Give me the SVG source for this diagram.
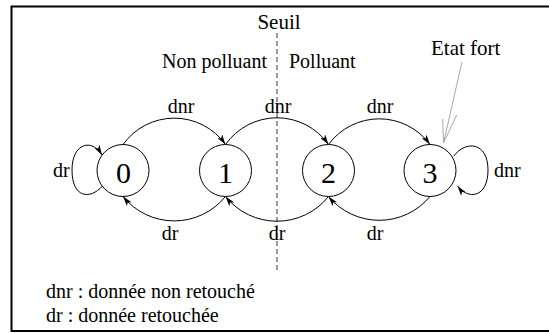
<svg xmlns="http://www.w3.org/2000/svg" width="549" height="333" viewBox="0 0 549 333">
  <style>
    text { font-family: "Liberation Serif", "Times New Roman", serif; fill: #000; }
    .lbl { font-size: 20px; }
    .num { font-size: 30px; text-anchor: middle; }
    .mid { text-anchor: middle; }
    .state { fill: #fff; stroke: #000; stroke-width: 1; }
    .edge { fill: none; stroke: #000; stroke-width: 1; marker-end: url(#head); }
    .pointer { fill: none; stroke: #a8a8a8; stroke-width: 1; }
  </style>
  <defs>
    <marker id="head" viewBox="0 0 10 6" markerWidth="11" markerHeight="6" refX="10" refY="3" orient="auto" markerUnits="userSpaceOnUse">
      <path d="M0,0 L10,3 L0,6 L2.5,3 z" fill="#000"/>
    </marker>
  </defs>

  <!-- outer frame -->
  <rect x="11.5" y="6.5" width="545" height="324.5" fill="#fff" stroke="#000" stroke-width="2"/>

  <!-- threshold line -->
  <g id="threshold">
    <line x1="277" y1="33" x2="277" y2="272" stroke="#333" stroke-width="1" stroke-dasharray="5,3"/>
    <text class="lbl mid" x="279" y="29" style="font-size:21px">Seuil</text>
    <text class="lbl" x="162" y="68">Non polluant</text>
    <text class="lbl" x="289" y="68">Polluant</text>
  </g>

  <!-- transitions -->
  <g id="connectors">
    <path class="edge" d="M123,144.5 A63,63 0 0 1 225.5,144.5"/>
    <path class="edge" d="M225.5,144.5 A63,63 0 0 1 328.5,144.5"/>
    <path class="edge" d="M328.5,144.5 A63,63 0 0 1 430,144.5"/>
    <path class="edge" d="M225.5,196.5 A66,66 0 0 1 123,196.5"/>
    <path class="edge" d="M328.5,196.5 A66,66 0 0 1 225.5,196.5"/>
    <path class="edge" d="M430,196.5 A66,66 0 0 1 328.5,196.5"/>
    <path class="edge" d="M102.5,186 C90,200 72,198 72,170 C72,143 92,138 102,155"/>
    <path class="edge" d="M453.8,156 C466,140 488,142 488,170 C488,198 468,200 457.5,186"/>
    <text class="lbl mid" x="181" y="113">dnr</text>
    <text class="lbl mid" x="278" y="113">dnr</text>
    <text class="lbl mid" x="380" y="113">dnr</text>
    <text class="lbl mid" x="170" y="240">dr</text>
    <text class="lbl mid" x="277" y="240">dr</text>
    <text class="lbl mid" x="375" y="240">dr</text>
    <text class="lbl" x="53" y="177">dr</text>
    <text class="lbl" x="494" y="177">dnr</text>
  </g>

  <!-- states -->
  <g id="node0">
    <circle class="state" cx="123" cy="170.5" r="26"/>
    <text class="num" x="123.5" y="183">0</text>
  </g>
  <g id="node1">
    <circle class="state" cx="225.5" cy="170.5" r="26"/>
    <text class="num" x="225.5" y="183">1</text>
  </g>
  <g id="node2">
    <circle class="state" cx="328.5" cy="170.5" r="26"/>
    <text class="num" x="328.5" y="183">2</text>
  </g>
  <g id="node3">
    <circle class="state" cx="430" cy="170.5" r="26"/>
    <text class="num" x="430" y="183">3</text>
  </g>

  <!-- strong state annotation -->
  <g id="strong-state">
    <text class="lbl" x="431" y="55" style="font-size:21px">Etat fort</text>
    <line class="pointer" x1="462" y1="62" x2="443.5" y2="143"/>
    <polyline class="pointer" points="442.7,119 443.5,143 456.7,115"/>
  </g>

  <!-- legend -->
  <g id="legend">
    <text class="lbl" x="46" y="298">dnr : donnée non retouché</text>
    <text class="lbl" x="46" y="322">dr : donnée retouchée</text>
  </g>
</svg>
